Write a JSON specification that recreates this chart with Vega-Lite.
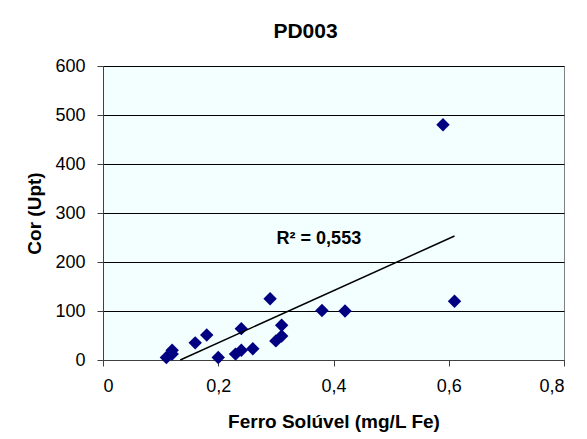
{
  "$schema": "https://vega.github.io/schema/vega-lite/v6.json",
  "autosize": "none",
  "width": 461,
  "height": 294,
  "padding": {"left": 103, "top": 66, "right": 23, "bottom": 79},
  "background": "white",
  "title": {
    "text": "PD003",
    "font": "Liberation Sans",
    "fontSize": 21,
    "fontWeight": "bold",
    "color": "black",
    "anchor": "middle",
    "baseline": "bottom",
    "offset": -6,
    "dx": -28
  },
  "config": {
    "view": {"fill": "#F3FFFF", "stroke": "#808080", "strokeWidth": 1},
    "font": "Liberation Sans"
  },
  "datasets": {
    "pontos": [
      {"ferro": 0.11, "cor": 5},
      {"ferro": 0.12, "cor": 12},
      {"ferro": 0.12, "cor": 20},
      {"ferro": 0.16, "cor": 35},
      {"ferro": 0.18, "cor": 51},
      {"ferro": 0.20, "cor": 5},
      {"ferro": 0.23, "cor": 12},
      {"ferro": 0.24, "cor": 20},
      {"ferro": 0.24, "cor": 64},
      {"ferro": 0.26, "cor": 23},
      {"ferro": 0.29, "cor": 125},
      {"ferro": 0.30, "cor": 39},
      {"ferro": 0.31, "cor": 49},
      {"ferro": 0.31, "cor": 71},
      {"ferro": 0.38, "cor": 101},
      {"ferro": 0.42, "cor": 100},
      {"ferro": 0.59, "cor": 480},
      {"ferro": 0.61, "cor": 120}
    ],
    "tendencia": [
      {"ferro": 0.134, "cor": 0},
      {"ferro": 0.61, "cor": 253}
    ],
    "rotulo": [
      {"ferro": 0.448, "cor": 236, "texto": "R² = 0,553"}
    ]
  },
  "layer": [
    {
      "data": {"name": "pontos"},
      "mark": {"type": "point", "shape": "diamond", "filled": true, "size": 180, "color": "#000080", "opacity": 1},
      "encoding": {
        "x": {
          "field": "ferro", "type": "quantitative",
          "scale": {"domain": [0, 0.8], "nice": false, "zero": true},
          "axis": {
            "values": [0, 0.2, 0.4, 0.6, 0.8],
            "labelExpr": "replace(format(datum.value, '.1~f'), '.', ',')",
            "title": "Ferro Solúvel (mg/L Fe)",
            "grid": false,
            "domainColor": "#404040",
            "tickColor": "#404040",
            "tickSize": 6,
            "labelFontSize": 18,
            "labelColor": "black",
            "labelPadding": 11,
            "titleFontSize": 19,
            "titleFontWeight": "bold",
            "titleColor": "black",
            "titlePadding": 17
          }
        },
        "y": {
          "field": "cor", "type": "quantitative",
          "scale": {"domain": [0, 600], "nice": false},
          "axis": {
            "values": [0, 100, 200, 300, 400, 500, 600],
            "title": "Cor (Upt)",
            "grid": true,
            "gridColor": "black",
            "gridOpacity": 1,
            "domainColor": "#404040",
            "tickColor": "#404040",
            "tickSize": 6,
            "labelFontSize": 18,
            "labelColor": "black",
            "labelPadding": 12,
            "titleFontSize": 19,
            "titleFontWeight": "bold",
            "titleColor": "black",
            "titlePadding": 10
          }
        }
      }
    },
    {
      "data": {"name": "tendencia"},
      "mark": {"type": "line", "color": "black", "strokeWidth": 1.5},
      "encoding": {
        "x": {"field": "ferro", "type": "quantitative"},
        "y": {"field": "cor", "type": "quantitative"}
      }
    },
    {
      "data": {"name": "rotulo"},
      "mark": {"type": "text", "align": "right", "baseline": "alphabetic", "fontSize": 18, "fontWeight": "bold", "color": "black"},
      "encoding": {
        "x": {"field": "ferro", "type": "quantitative"},
        "y": {"field": "cor", "type": "quantitative"},
        "text": {"field": "texto"}
      }
    }
  ]
}
